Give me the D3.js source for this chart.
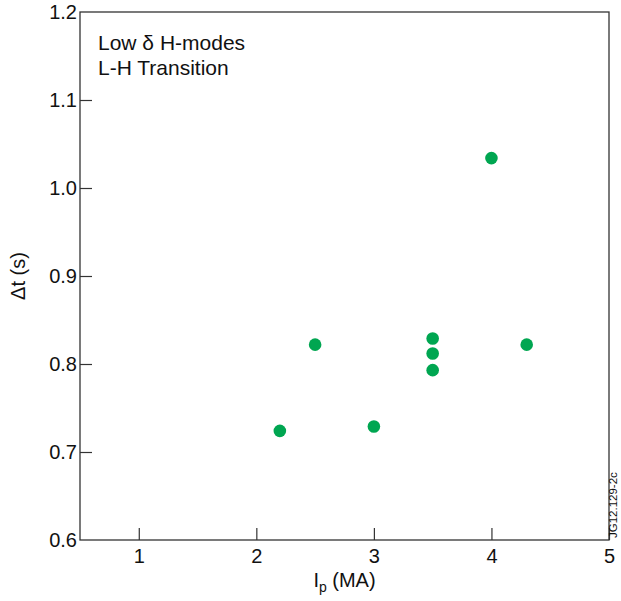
<!DOCTYPE html>
<html>
<head>
<meta charset="utf-8">
<script src="https://cdn.jsdelivr.net/npm/d3@7"></script>
<style>
  body { margin: 0; background: #fff; }
  svg text { font-family: "Liberation Sans", Arial, sans-serif; fill: #111; }
</style>
</head>
<body>
<div id="chart"></div>
<script>
// plasma current (MA) and L-H transition delay (s)
const ipValues = [2.2, 2.5, 3.0, 3.5, 3.5, 3.5, 4.0, 4.3];
const dtValues = [0.724, 0.822, 0.729, 0.829, 0.812, 0.793, 1.034, 0.822];
const xTicks = [1, 2, 3, 4, 5];
const yTicks = [0.6, 0.7, 0.8, 0.9, 1.0, 1.1, 1.2];
const notes = ["Low \u03b4 H-modes", "L-H Transition"];

const width = 621, height = 601;
const margin = { top: 12, right: 12, bottom: 61, left: 80 };

const svg = d3.select("#chart").append("svg")
    .attr("width", width)
    .attr("height", height);

const x = d3.scaleLinear().domain([0.5, 5]).range([margin.left, width - margin.right]);
const y = d3.scaleLinear().domain([0.6, 1.2]).range([height - margin.bottom, margin.top]);

const axisColor = "#333";
const fontSize = 20;

// frame
svg.append("rect")
    .attr("x", x(0.5)).attr("y", y(1.2))
    .attr("width", x(5) - x(0.5)).attr("height", y(0.6) - y(1.2))
    .attr("fill", "none").attr("stroke", axisColor).attr("stroke-width", 1.3);

// x axis, ticks point inward
const xAxis = svg.append("g")
    .attr("transform", `translate(0,${y(0.6)})`)
    .call(d3.axisBottom(x).tickValues(xTicks).tickFormat(d3.format("d")).tickSizeInner(-12).tickSizeOuter(0).tickPadding(6));
xAxis.select(".domain").remove();
xAxis.selectAll("line").attr("stroke", axisColor).attr("stroke-width", 1.2);
xAxis.selectAll("text").attr("font-size", fontSize).attr("dy", "0.85em");

const yAxis = svg.append("g")
    .attr("transform", `translate(${x(0.5)},0)`)
    .call(d3.axisLeft(y).tickValues(yTicks).tickFormat(d3.format(".1f")).tickSizeInner(-12).tickSizeOuter(0).tickPadding(3));
yAxis.select(".domain").remove();
yAxis.selectAll("line").attr("stroke", axisColor).attr("stroke-width", 1.2)
    .attr("display", d => (d === 0.6 || d === 1.2) ? "none" : null);
yAxis.selectAll("text").attr("font-size", fontSize);

// axis titles
const xTitle = svg.append("text")
    .attr("x", (x(0.5) + x(5)) / 2)
    .attr("y", 587)
    .attr("text-anchor", "middle")
    .attr("font-size", fontSize);
xTitle.append("tspan").text("I");
xTitle.append("tspan").attr("font-size", 14).attr("dy", 5).text("p");
xTitle.append("tspan").attr("dy", -5).text(" (MA)");

svg.append("text")
    .attr("transform", `translate(25,${(y(0.6) + y(1.2)) / 2}) rotate(-90)`)
    .attr("text-anchor", "middle")
    .attr("font-size", fontSize)
    .text("\u0394t (s)");

// annotation
svg.append("g").selectAll("text")
    .data(notes)
    .join("text")
    .attr("x", 98)
    .attr("y", (d, i) => 50 + i * 25)
    .attr("font-size", 21)
    .text(d => d);

// points
svg.append("g").selectAll("circle")
    .data(ipValues)
    .join("circle")
    .attr("cx", d => x(d))
    .attr("cy", (d, i) => y(dtValues[i]))
    .attr("r", 6.3)
    .attr("fill", "#00a651");

// figure id
svg.append("text")
    .attr("transform", `translate(617,${y(0.6) - 2}) rotate(-90)`)
    .attr("font-size", 11.5)
    .text("JG12.129-2c");
</script>
</body>
</html>
